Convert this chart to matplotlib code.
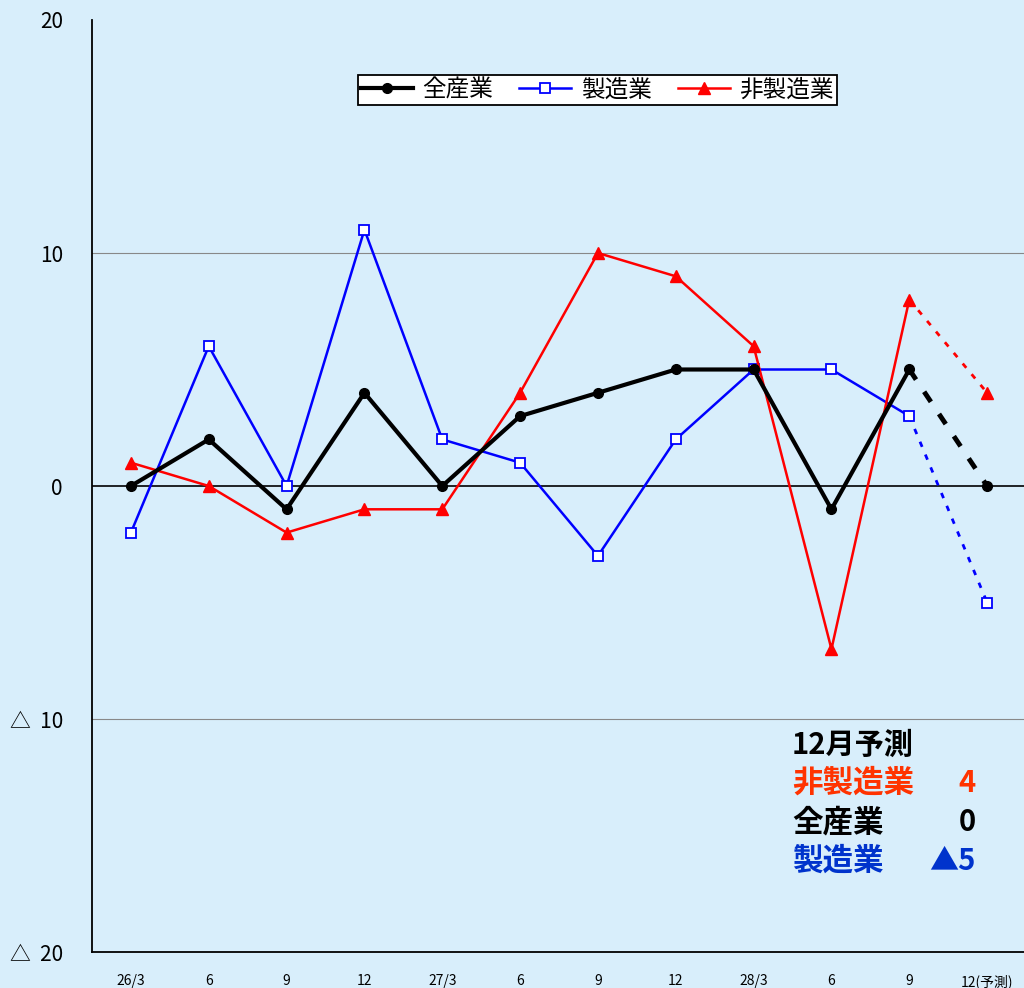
import matplotlib.pyplot as plt
import numpy as np

plt.rcParams['font.family'] = ['Noto Sans CJK JP', 'DejaVu Sans']

# quarters
labels = ['26/3', '6', '9', '12', '27/3', '6', '9', '12', '28/3', '6', '9', '12(予測)']
all_ind = [0, 2, -1, 4, 0, 3, 4, 5, 5, -1, 5, 0]      # 全産業
mfg = [-2, 6, 0, 11, 2, 1, -3, 2, 5, 5, 3, -5]          # 製造業
non_mfg = [1, 0, -2, -1, -1, 4, 10, 9, 6, -7, 8, 4]     # 非製造業

bg = '#D8EEFB'
x = np.arange(len(labels))
n = len(labels) - 1  # last point is the forecast

fig = plt.figure(figsize=(10.24, 9.88), dpi=100, facecolor=bg)
ax = fig.add_axes([92 / 1024, 36 / 988, 1 - 92 / 1024 + 0.002, 932 / 988])
ax.set_facecolor(bg)

ax.axhline(10, color='#888888', lw=0.8, zorder=1)
ax.axhline(-10, color='#888888', lw=0.8, zorder=1)
ax.axhline(0, color='black', lw=1.2, zorder=1)

# actual values
ax.plot(x[:n], mfg[:n], color='#0000FF', lw=1.8, marker='s', ms=7,
        mfc='white', mec='#0000FF', mew=1.3, label='製造業', zorder=3)
ax.plot(x[:n], non_mfg[:n], color='#FF0000', lw=1.8, marker='^', ms=8,
        mfc='#FF0000', mec='#FF0000', label='非製造業', zorder=3)
ax.plot(x[:n], all_ind[:n], color='black', lw=3, marker='o', ms=7,
        label='全産業', zorder=4)

# forecast
ax.plot(x[n - 1:], mfg[n - 1:], color='#0000FF', lw=2, ls=(0, (2, 3)), zorder=2)
ax.plot(x[n:], mfg[n:], ls='none', marker='s', ms=7, mfc='white',
        mec='#0000FF', mew=1.3, zorder=3)
ax.plot(x[n - 1:], non_mfg[n - 1:], color='#FF0000', lw=2, ls=(0, (2, 3)), zorder=2)
ax.plot(x[n:], non_mfg[n:], ls='none', marker='^', ms=8, color='#FF0000', zorder=3)
ax.plot(x[n - 1:], all_ind[n - 1:], color='black', lw=3.5, ls=(0, (2.5, 3)), zorder=2)
ax.plot(x[n:], all_ind[n:], ls='none', marker='o', ms=7, color='black', zorder=4)

ax.set_xlim(-0.5, 11.5)
ax.set_ylim(-20, 20)
ax.set_xticks(x)
ax.set_xticklabels(labels, fontsize=10)
ax.set_yticks([20, 10, 0, -10, -20])
ax.set_yticklabels(['20', '10', '0', '△  10', '△  20'], fontsize=15)
ax.tick_params(length=0)
ax.tick_params(axis='y', pad=21)
ax.tick_params(axis='x', pad=16)
for s in ['top', 'right']:
    ax.spines[s].set_visible(False)
ax.spines['left'].set_linewidth(1.3)
ax.spines['bottom'].set_linewidth(1.3)

h, l = ax.get_legend_handles_labels()
order = [2, 0, 1]
leg = ax.legend([h[i] for i in order], [l[i] for i in order], loc='center',
                bbox_to_anchor=(0.541, 0.925), ncol=3, fontsize=17,
                frameon=True, fancybox=False, edgecolor='black',
                facecolor='white', framealpha=1, borderpad=0.15,
                handlelength=2.2, columnspacing=1.1, handletextpad=0.4)
leg.get_frame().set_linewidth(1.3)

# forecast summary
tx = 792 / 1024
fig.text(tx, (988 - 745) / 988, '12月予測', fontsize=21, fontweight='bold',
         color='black', va='center')
rows = [('非製造業', '4', '#FF3300'), ('全産業', '0', 'black'), ('製造業', '▲5', '#0033CC')]
for i, (name, val, c) in enumerate(rows):
    yy = (988 - 783 - i * 39) / 988
    fig.text(tx, yy, name, fontsize=22, fontweight='bold', color=c, va='center')
    fig.text(976 / 1024, yy, val, fontsize=21, fontweight='bold', color=c,
             va='center', ha='right')

fig.savefig('out.png', dpi=100, facecolor=bg)
